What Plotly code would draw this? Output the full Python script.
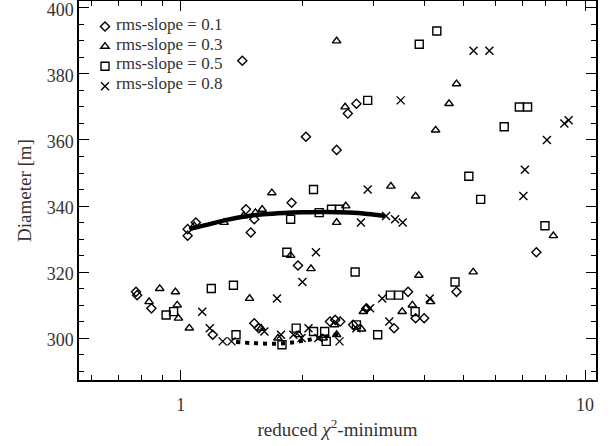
import plotly.graph_objects as go

# rms-slope = 0.1 (diamonds)
x_01 = [1.42, 2.04, 2.43, 2.72, 2.59, 7.58, 4.81, 3.65, 3.81, 4.00, 3.37, 2.88, 1.04, 1.04, 1.09,
        1.45, 1.52, 1.49, 1.88, 1.95, 0.775, 0.78, 0.846, 1.20, 1.52, 1.56, 2.34, 2.41, 2.48, 2.67]
y_01 = [384, 361, 357, 371, 368, 326, 314, 314, 306, 306, 303, 309, 331, 333, 335,
        339, 336, 332, 341, 322, 314, 313, 309, 301, 304.5, 303, 305, 305.5, 305, 304]

# rms-slope = 0.3 (triangles)
x_03 = [2.43, 2.55, 4.81, 4.61, 4.27, 3.31, 3.81, 8.35, 2.10, 3.88, 5.29, 4.15, 3.74, 3.53, 2.83,
        1.08, 1.28, 1.43, 1.53, 1.59, 1.68, 2.56, 2.43, 1.87, 0.887, 0.97, 0.835, 0.98, 0.987, 1.05,
        1.48, 1.58, 1.74, 1.96, 2.25, 2.43, 2.40, 2.80, 2.87]
y_03 = [390, 370, 377, 371, 363, 346, 343, 331, 321, 319, 320, 311, 310, 308, 308,
        334, 335, 337, 338, 339, 344, 340, 335, 325, 315, 314, 311, 310, 306, 303,
        312, 303, 300, 301, 300, 301, 304, 302.7, 309]

# rms-slope = 0.5 (squares)
x_05 = [2.90, 3.89, 4.30, 6.88, 7.21, 6.31, 5.16, 5.52, 2.13, 7.96, 2.70, 4.77, 3.30, 3.46, 3.80,
        3.07, 1.87, 2.20, 2.36, 2.47, 1.83, 0.92, 0.96, 1.19, 1.35, 1.37, 1.78, 1.93, 2.13, 2.27,
        2.29, 2.72]
y_05 = [372, 389, 393, 370, 370, 364, 349, 342, 345, 334, 320, 317, 313, 313, 308,
        301, 336, 338, 339, 339, 326, 307, 308, 315, 316, 301, 298, 303, 302, 302,
        299, 304]

# rms-slope = 0.8 (crosses)
x_08 = [3.50, 5.30, 5.80, 8.89, 9.11, 8.05, 7.10, 7.04, 2.90, 2.16, 2.00, 3.15, 4.13, 3.28, 2.94,
        2.79, 3.22, 3.39, 3.54, 1.73, 1.13, 1.18, 1.27, 1.335, 1.61, 1.77, 1.90, 1.99, 2.07, 2.19,
        2.47, 2.72]
y_08 = [372, 387, 387, 365, 366, 360, 351, 343, 345, 326, 317, 312, 312, 305, 309,
        335, 337, 336, 335, 312, 308, 303, 299, 299, 302, 301, 301, 300, 303, 300,
        299, 303]

# thick solid fit curve
fit_solid_x = [1.05, 1.15, 1.3, 1.45, 1.6, 1.8, 2.0, 2.3, 2.6, 2.9, 3.2]
fit_solid_y = [333.0, 334.2, 335.8, 336.9, 337.5, 337.9, 338.1, 338.2, 338.0, 337.6, 337.0]

# thick dotted fit curve
fit_dot_x = [1.37, 1.5, 1.65, 1.8, 1.95, 2.1, 2.25, 2.45]
fit_dot_y = [298.8, 298.5, 298.3, 298.4, 298.9, 299.6, 300.3, 301.2]

labels = ["rms-slope = 0.1", "rms-slope = 0.3", "rms-slope = 0.5", "rms-slope = 0.8"]
symbols = ["diamond-open", "triangle-up-open", "square-open", "x-thin-open"]
sizes = [7, 7.5, 8, 8]

FONT = "Liberation Serif, Times New Roman, serif"
TXT = "#333"

L, R, T, B, W, H = 79, 20, 1, 66, 616, 446
PW, PH = W - L - R, H - T - B

fig = go.Figure()
for xs, ys, sym, sz, lab in zip([x_01, x_03, x_05, x_08], [y_01, y_03, y_05, y_08], symbols, sizes, labels):
    # legend shows only the symbol; the label text is drawn as an annotation below
    fig.add_trace(go.Scatter(x=xs, y=ys, mode="markers", name=" ", legendgroup=lab,
                             hovertemplate=lab + "<br>%{x}, %{y}<extra></extra>",
                             marker=dict(symbol=sym, size=sz, color="black",
                                         line=dict(color="black", width=1.4))))
fig.add_trace(go.Scatter(x=fit_solid_x, y=fit_solid_y, mode="lines", showlegend=False,
                         line=dict(color="black", width=4.5, shape="spline")))
fig.add_trace(go.Scatter(x=fit_dot_x, y=fit_dot_y, mode="lines", showlegend=False,
                         line=dict(color="black", width=4, dash="4px,5px", shape="spline")))

ax_common = dict(showgrid=False, zeroline=False, showline=True, linecolor="black", linewidth=1.5,
                 mirror="ticks", ticks="inside", tickcolor="black", tickwidth=1.2, automargin=False,
                 ticklabeloverflow="allow",
                 tickfont=dict(family=FONT, size=18, color=TXT))

fig.update_xaxes(type="log", range=[-0.2517, 1.0272], tickvals=[1, 10], ticktext=["1", "10"],
                 ticklen=10, ticklabelstandoff=8,
                 minor=dict(tickvals=[0.6, 0.7, 0.8, 0.9, 2, 3, 4, 5, 6, 7, 8, 9],
                            ticks="inside", ticklen=5, tickcolor="black", tickwidth=1.2),
                 title=dict(text="reduced <i>χ</i><sup>2</sup>-minimum",
                            font=dict(family=FONT, size=19, color=TXT), standoff=8),
                 **ax_common)
fig.update_yaxes(range=[287.3, 402.1], tickvals=[300, 320, 340, 360, 380, 400], ticklen=10,
                 ticklabelshift=2,
                 minor=dict(dtick=5, tick0=0, ticks="inside", ticklen=5, tickcolor="black", tickwidth=1.2),
                 title=dict(text="Diameter [m]", font=dict(family=FONT, size=19, color=TXT), standoff=10),
                 **ax_common)

legend_text_x = 114
legend_rows_y = [24.5, 44, 63.5, 83]
for lab, py in zip(labels, legend_rows_y):
    fig.add_annotation(xref="paper", yref="paper", x=(legend_text_x - L) / PW, y=(H - B - py) / PH,
                       text=lab, showarrow=False, xanchor="left", yanchor="middle",
                       font=dict(family=FONT, size=17, color=TXT))

fig.update_layout(
    width=W, height=H,
    margin=dict(l=L, r=R, t=T, b=B, autoexpand=False),
    paper_bgcolor="white", plot_bgcolor="white",
    showlegend=True,
    legend=dict(x=(85 - L) / PW, y=(H - B - 11.5) / PH, xanchor="left", yanchor="top",
                bgcolor="rgba(0,0,0,0)", itemwidth=30, tracegroupgap=0,
                font=dict(family=FONT, size=13, color=TXT)),
)

fig.write_html("out.html", config={"displayModeBar": False},
               post_script="document.body.style.margin='0';")
